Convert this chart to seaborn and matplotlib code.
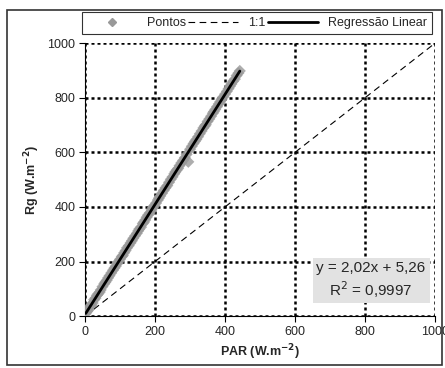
import matplotlib
matplotlib.use("Agg")
import matplotlib.pyplot as plt
import seaborn as sns
import pandas as pd
from matplotlib.lines import Line2D
from matplotlib.patches import Rectangle

# dados
par = [2, 5, 10, 15, 22, 30, 38, 45, 55, 62, 70, 80, 88, 95, 105, 112, 120, 130,
       138, 148, 155, 165, 172, 180, 190, 198, 208, 215, 225, 235, 245, 255, 262,
       270, 280, 290, 295, 300, 310, 318, 328, 338, 345, 355, 365, 372, 382, 390,
       400, 410, 418, 428, 438, 442,
       4, 8, 18, 26, 34, 42, 50, 58, 66, 75, 84, 92, 100, 108, 116, 125, 134,
       143, 152, 160, 168, 176, 185, 194, 203, 211, 220, 230, 240, 250, 258,
       266, 275, 285, 305, 314, 323, 333, 342, 350, 360, 368, 377, 386, 395,
       405, 414, 423, 433]
rg = [9, 16, 24, 37, 48, 66, 82, 96, 118, 131, 148, 168, 183, 199, 218, 232, 250, 268,
      285, 303, 319, 339, 352, 370, 389, 405, 425, 440, 460, 478, 501, 521, 535,
      551, 570, 592, 565, 611, 632, 647, 668, 689, 701, 722, 743, 757, 777, 794,
      813, 833, 850, 868, 890, 898,
      18, 20, 40, 60, 76, 88, 108, 124, 140, 158, 176, 192, 208, 222, 240, 258, 276,
      294, 312, 326, 344, 362, 378, 398, 414, 432, 450, 470, 490, 510, 528,
      541, 561, 580, 622, 640, 657, 678, 696, 713, 732, 749, 767, 785, 803,
      823, 842, 860, 881]
ident = [0, 1000]
ticks = [0, 200, 400, 600, 800, 1000]
eq_text = "y = 2,02x + 5,26\nR$^2$ = 0,9997"

df = pd.DataFrame({"PAR": par, "Rg": rg})

sns.set_style("white")
plt.rcParams["font.family"] = ["Liberation Sans", "DejaVu Sans"]

fig = plt.figure(figsize=(4.45, 3.68), dpi=100)
ax = fig.add_axes([0.191, 0.141, 0.787, 0.742])

# pontos + regressao
sns.regplot(data=df, x="PAR", y="Rg", ci=None, ax=ax,
            marker="D", color="#999999",
            scatter_kws={"s": 38, "color": "#999999", "edgecolor": "none", "zorder": 3},
            line_kws={"color": "black", "lw": 2, "zorder": 4})
# linha 1:1
ax.plot(ident, ident, color="black", lw=0.8, ls=(0, (6, 4)), zorder=2)

ax.set_xlim(0, 1000)
ax.set_ylim(0, 1000)
ax.set_xticks(ticks)
ax.set_yticks(ticks)
ax.tick_params(labelsize=9, length=4, width=0.8, color="black", direction="out",
               bottom=True, left=True, pad=3)
ax.grid(True, color="black", ls=(0, (1.2, 1.2)), lw=1.8)
ax.set_axisbelow(True)
for s in ["top", "right"]:
    ax.spines[s].set_visible(False)
for s in ["left", "bottom"]:
    ax.spines[s].set_color("black")
    ax.spines[s].set_linewidth(0.8)

ax.set_xlabel("PAR (W.m$^{\\mathbf{-2}}$)", fontsize=9, fontweight="bold", labelpad=3)
ax.set_ylabel("Rg (W.m$^{\\mathbf{-2}}$)", fontsize=9, fontweight="bold", labelpad=4)

ax.text(817, 132, eq_text, ha="center", va="center", fontsize=11, linespacing=1.25,
        bbox=dict(boxstyle="square,pad=0.25", facecolor="#e2e2e2", edgecolor="none"),
        zorder=5)

handles = [
    Line2D([], [], marker="D", color="#999999", ls="none", markersize=4),
    Line2D([], [], color="black", lw=0.8, ls=(0, (6, 4))),
    Line2D([], [], color="black", lw=2),
]
fig.legend(handles, ["Pontos", "1:1", "Regressão Linear"], ncol=3,
           loc="lower left", bbox_to_anchor=(82 / 445, 1 - 34 / 368, 350 / 445, 24 / 368),
           mode="expand", fontsize=9, frameon=True, fancybox=False,
           edgecolor="black", handlelength=4, borderaxespad=0, columnspacing=1)
leg = fig.legends[0]
leg.get_frame().set_linewidth(0.8)

# moldura externa
fig.patches.append(Rectangle((0.016, 0.008), 0.978, 0.965, transform=fig.transFigure,
                             fill=False, edgecolor="#333333", lw=1.2))

fig.savefig("out.png", dpi=100)
